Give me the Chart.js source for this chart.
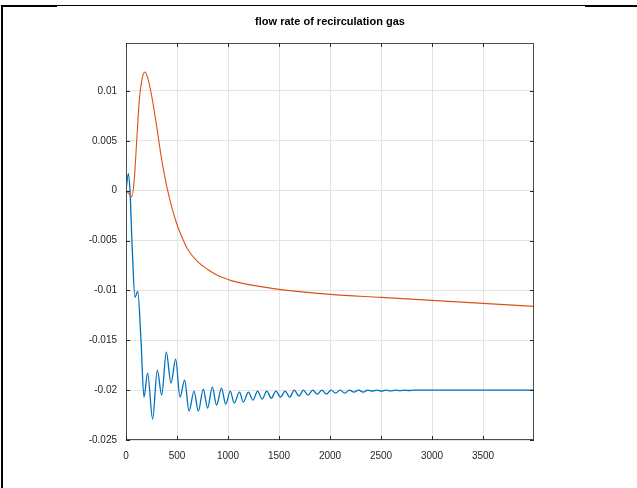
<!DOCTYPE html>
<html>
<head>
<meta charset="utf-8">
<script src="https://cdn.jsdelivr.net/npm/chart.js@4.4.0/dist/chart.umd.min.js"></script>
<style>
  html, body { margin: 0; padding: 0; background: #fff; }
  #wrap { position: relative; width: 637px; height: 488px; overflow: hidden; }
  canvas { position: absolute; left: 0; top: 0; }
  .edge { position: absolute; background: #000; }
</style>
</head>
<body>
<div id="wrap">
  <canvas id="flowChart" width="637" height="488"></canvas>
  <!-- bordas da figura recortada -->
  <div class="edge" style="left:1px; top:5px; width:2px; height:483px;"></div>
  <div class="edge" style="left:1px; top:5px; width:56px; height:2px;"></div>
  <div class="edge" style="left:57px; top:5px; width:528px; height:1px;"></div>
  <div class="edge" style="left:585px; top:5px; width:52px; height:2px;"></div>
</div>
<script>
// Dados
const titleText = 'flow rate of recirculation gas';

const xTicks = [0, 500, 1000, 1500, 2000, 2500, 3000, 3500];
const yTicks = [-0.025, -0.02, -0.015, -0.01, -0.005, 0, 0.005, 0.01];

// Série laranja (curva suave)
const orangeX = [0, 30, 56, 80, 105, 130, 160, 186, 210, 250, 300, 350, 400, 450, 500, 550, 600, 700, 800, 900, 1000, 1100, 1250, 1500, 2000, 2500, 3000, 3500, 4000];
const orangeY = [0, -0.0003, -0.0006, 0.001, 0.005, 0.009, 0.0113, 0.0119, 0.0114, 0.0096, 0.0065, 0.0031, 0.0004, -0.0017, -0.0034, -0.0047, -0.0058, -0.0071, -0.0079, -0.0085, -0.0089, -0.0092, -0.0095, -0.0099, -0.0104, -0.0107, -0.0110, -0.0113, -0.0116];

// Série azul (oscilação amortecida) – picos e vales
const blueX = [0, 23, 39, 62, 88, 115, 147, 176, 212, 261, 307, 350, 395, 441, 487, 529, 575, 618, 667, 709, 758, 800, 846, 888, 936, 978, 1022, 1061, 1113, 1150,
  1200, 1245, 1290, 1335, 1380, 1425, 1470, 1515, 1560, 1605, 1650, 1695, 1740, 1785, 1830, 1875, 1920, 1965, 2010, 2055, 2100, 2145, 2190, 2235, 2280, 2325, 2370, 2415, 2460, 2505, 2550, 2595, 2640, 2685, 2730, 2775, 2820, 3000, 4000];
const blueY = [0, 0.0017, 0, -0.006, -0.0107, -0.0101, -0.015, -0.0207, -0.0183, -0.0229, -0.018, -0.0205, -0.0162, -0.0193, -0.0169, -0.0207, -0.019, -0.0221, -0.0201, -0.0221, -0.0199, -0.0218, -0.0197, -0.0215, -0.0198, -0.0214, -0.0201, -0.0213, -0.0202, -0.0212,
  -0.0202, -0.0210, -0.0201, -0.0209, -0.0201, -0.0208, -0.0201, -0.0207, -0.0201, -0.0207, -0.0200, -0.0206, -0.0200, -0.0205, -0.0200, -0.0204, -0.0200, -0.0204, -0.0200, -0.0203, -0.0200, -0.0203, -0.0200, -0.0202, -0.0200, -0.0202, -0.0200, -0.0201, -0.0200, -0.0201, -0.0200, -0.02008, -0.0200, -0.02006, -0.0200, -0.02004, -0.0200, -0.0200, -0.0200];

const toPoints = (xs, ys) => xs.map((x, i) => ({ x: x, y: ys[i] }));

const fontFamily = '"Liberation Sans", Arial, Helvetica, sans-serif';

// Caixa estilo MATLAB com marcas internas e título
const boxPlugin = {
  id: 'matlabBox',
  afterDatasetsDraw(chart) {
    const { ctx, chartArea: a, scales } = chart;
    ctx.save();
    ctx.strokeStyle = '#4d4d4d';
    ctx.lineWidth = 1;
    ctx.strokeRect(a.left + 0.5, a.top + 0.5, a.right - a.left - 1, a.bottom - a.top - 1);
    ctx.strokeStyle = '#262626';
    ctx.beginPath();
    xTicks.forEach(v => {
      const px = Math.round(scales.x.getPixelForValue(v)) + 0.5;
      ctx.moveTo(px, a.bottom); ctx.lineTo(px, a.bottom - 4);
      ctx.moveTo(px, a.top); ctx.lineTo(px, a.top + 4);
    });
    yTicks.forEach(v => {
      const py = Math.round(scales.y.getPixelForValue(v)) + 0.5;
      ctx.moveTo(a.left, py); ctx.lineTo(a.left + 4, py);
      ctx.moveTo(a.right, py); ctx.lineTo(a.right - 4, py);
    });
    ctx.stroke();
    ctx.fillStyle = '#000';
    ctx.font = 'bold 11px ' + fontFamily;
    ctx.textAlign = 'center';
    ctx.textBaseline = 'middle';
    ctx.fillText(titleText, (a.left + a.right) / 2, 22);
    ctx.restore();
  }
};

document.addEventListener('DOMContentLoaded', () => {
  const ctx = document.getElementById('flowChart').getContext('2d');
  new Chart(ctx, {
    type: 'line',
    data: {
      datasets: [
        {
          label: 'orange',
          data: toPoints(orangeX, orangeY),
          borderColor: '#D95319',
          borderWidth: 1.1,
          pointRadius: 0,
          fill: false,
          cubicInterpolationMode: 'monotone'
        },
        {
          label: 'blue',
          data: toPoints(blueX, blueY),
          borderColor: '#0072BD',
          borderWidth: 1.3,
          pointRadius: 0,
          fill: false,
          cubicInterpolationMode: 'monotone'
        }
      ]
    },
    options: {
      responsive: false,
      animation: false,
      layout: { padding: { top: 43, right: 103, left: 0, bottom: 0 } },
      plugins: {
        legend: { display: false },
        tooltip: { enabled: false },
        title: { display: false }
      },
      scales: {
        x: {
          type: 'linear',
          min: 0,
          max: 4000,
          afterFit: s => { s.height = 48; },
          afterBuildTicks: s => { s.ticks = xTicks.map(v => ({ value: v })); },
          grid: { color: '#e3e3e3', drawTicks: false },
          border: { display: false },
          ticks: {
            padding: 10,
            color: '#262626',
            font: { family: fontFamily, size: 10 },
            maxRotation: 0,
            callback: v => String(v)
          }
        },
        y: {
          type: 'linear',
          min: -0.025,
          max: 0.0148,
          afterFit: s => { s.width = 126; },
          afterBuildTicks: s => { s.ticks = yTicks.map(v => ({ value: v })); },
          grid: { color: '#e3e3e3', drawTicks: false },
          border: { display: false },
          ticks: {
            padding: 9,
            color: '#262626',
            font: { family: fontFamily, size: 10 },
            callback: v => String(parseFloat(v.toFixed(4)))
          }
        }
      }
    },
    plugins: [boxPlugin]
  });
});
</script>
</body>
</html>
